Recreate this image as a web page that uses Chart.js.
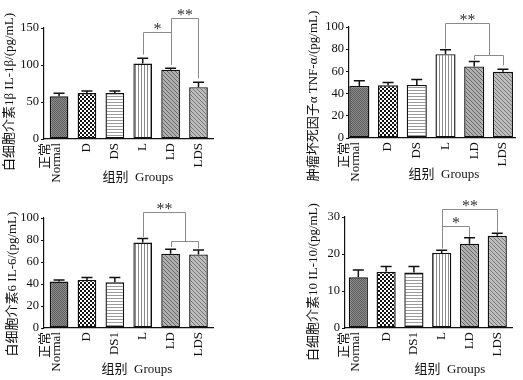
<!DOCTYPE html>
<html>
<head>
<meta charset="utf-8">
<script src="https://cdn.jsdelivr.net/npm/chart.js@4.4.1/dist/chart.umd.min.js"></script>
<style>
  html, body { margin: 0; padding: 0; background: #fff; }
  #page { position: relative; width: 523px; height: 380px; overflow: hidden; }
  .cell { position: absolute; width: 261px; height: 190px; }
</style>
</head>
<body>
<div id="page">
  <div class="cell" style="left:0;top:0"><canvas id="c1" width="261" height="190"></canvas></div>
  <div class="cell" style="left:262px;top:0"><canvas id="c2" width="261" height="190"></canvas></div>
  <div class="cell" style="left:0;top:190px"><canvas id="c3" width="261" height="190"></canvas></div>
  <div class="cell" style="left:262px;top:190px"><canvas id="c4" width="261" height="190"></canvas></div>
</div>
<script>
// groups (x categories)
const groupsA = [['正常', 'Normal'], 'D', 'DS', 'L', 'LD', 'LDS'];
const groupsB = [['正常', 'Normal'], 'D', 'DS1', 'L', 'LD', 'LDS'];

// IL-1β, pg/mL
const il1bMean = [57.7, 62, 62, 102, 93.7, 70];
const il1bErr = [4, 3, 3, 7, 1.8, 6.6];
// TNF-α, pg/mL
const tnfMean = [46.9, 47.5, 47.8, 75.5, 64.5, 59.7];
const tnfErr = [4.7, 2.4, 5, 3.9, 4.5, 2.3];
// IL-6, pg/mL
const il6Mean = [42.2, 43.7, 41.6, 77.7, 67.5, 66.9];
const il6Err = [1.5, 2.3, 4.2, 3.6, 4.2, 3.9];
// IL-10, pg/mL
const il10Mean = [13.7, 15.2, 15.0, 20.3, 22.8, 24.9];
const il10Err = [2.0, 1.4, 1.6, 0.7, 1.6, 0.7];

// y axis ticks
const il1bTicks = [0, 50, 100, 150];
const tnfTicks = [0, 20, 40, 60, 80, 100];
const il6Ticks = [0, 20, 40, 60, 80, 100];
const il10Ticks = [0, 10, 20, 30];

// significance brackets: a/b = group index, y = bar level, aEnd/bEnd = where the legs stop
const il1bSig = [
  { a: 3, b: 4, y: 144.6, aEnd: 114, bEnd: 100, text: '*' },
  { a: 4, b: 5, y: 163.5, aEnd: 100, bEnd: 82, text: '**' }
];
const tnfSig = [
  { a: 3, b: 4.5, y: 103.9, aEnd: 80.6, bEnd: 74.6, text: '**' },
  { a: 4, b: 5, y: 74.6, aEnd: 70.1, bEnd: 65.4, text: '' }
];
const il6Sig = [
  { a: 3, b: 4.5, y: 105.4, aEnd: 82.8, bEnd: 78.9, text: '**' },
  { a: 4, b: 5, y: 78.9, aEnd: 73.8, bEnd: 72.3, text: '' }
];
const il10Sig = [
  { a: 3, b: 5, y: 32.05, aEnd: 21.5, bEnd: 26.0, text: '**' },
  { a: 3, b: 4, y: 27.6, aEnd: 27.6, bEnd: 24.6, text: '*' }
];

const SERIF = "'Liberation Serif', 'Noto Sans CJK SC', serif";
const INK = '#111';
// two-line names sit left of their bar, so their tick is nudged (in group units)
const PAIR_SHIFT = 0.5;

// bar fills: one texture per group
function tile(size, draw) {
  const c = document.createElement('canvas');
  c.width = size; c.height = size;
  const g = c.getContext('2d');
  draw(g, size);
  return c.getContext('2d').createPattern(c, 'repeat');
}
const fills = [
  tile(2, (g) => { g.fillStyle = '#8c8c8c'; g.fillRect(0, 0, 2, 2); g.fillStyle = '#5e5e5e'; g.fillRect(0, 0, 1, 1); g.fillRect(1, 1, 1, 1); }),
  tile(4, (g) => { g.fillStyle = '#fff'; g.fillRect(0, 0, 4, 4); g.fillStyle = '#111'; g.fillRect(0, 0, 2, 2); g.fillRect(2, 2, 2, 2); }),
  tile(3, (g) => { g.fillStyle = '#fff'; g.fillRect(0, 0, 3, 3); g.fillStyle = '#9a9a9a'; g.fillRect(0, 0, 3, 1); }),
  tile(3, (g) => { g.fillStyle = '#fff'; g.fillRect(0, 0, 3, 3); g.fillStyle = '#8a8a8a'; g.fillRect(0, 0, 1, 3); }),
  tile(4, (g) => { g.fillStyle = '#b0b0b0'; g.fillRect(0, 0, 4, 4); g.fillStyle = '#666'; for (let i = 0; i < 4; i++) g.fillRect(i, i, 1, 1); }),
  tile(4, (g) => { g.fillStyle = '#bebebe'; g.fillRect(0, 0, 4, 4); g.fillStyle = '#747474'; for (let i = 0; i < 4; i++) g.fillRect(i, i, 1, 1); })
];

const errBars = {
  id: 'errBars',
  afterDatasetsDraw(chart, args, opts) {
    const { ctx } = chart;
    const y = chart.scales.y;
    const bars = chart.getDatasetMeta(0).data;
    ctx.save();
    ctx.strokeStyle = INK;
    ctx.lineWidth = 1.5;
    bars.forEach((bar, i) => {
      const top = y.getPixelForValue(opts.mean[i] + opts.err[i]);
      const base = y.getPixelForValue(opts.mean[i]);
      ctx.beginPath();
      ctx.moveTo(bar.x, base);
      ctx.lineTo(bar.x, top);
      ctx.moveTo(bar.x - 5.5, top);
      ctx.lineTo(bar.x + 5.5, top);
      ctx.stroke();
    });
    ctx.restore();
  }
};

const sig = {
  id: 'sig',
  afterDraw(chart, args, opts) {
    const { ctx } = chart;
    const { x, y } = chart.scales;
    ctx.save();
    ctx.strokeStyle = '#8a8a8a';
    ctx.lineWidth = 1;
    ctx.fillStyle = '#333';
    ctx.font = '16px ' + SERIF;
    ctx.textAlign = 'center';
    ctx.textBaseline = 'middle';
    opts.brackets.forEach((b) => {
      const xa = Math.round(x.getPixelForValue(b.a)) + 0.5;
      const xb = Math.round(x.getPixelForValue(b.b)) + 0.5;
      const yl = Math.round(y.getPixelForValue(b.y)) + 0.5;
      ctx.beginPath();
      ctx.moveTo(xa, y.getPixelForValue(b.aEnd));
      ctx.lineTo(xa, yl);
      ctx.lineTo(xb, yl);
      ctx.lineTo(xb, y.getPixelForValue(b.bEnd));
      ctx.stroke();
      if (b.text) ctx.fillText(b.text, (xa + xb) / 2, yl - 3);
    });
    ctx.restore();
  }
};

const titles = {
  id: 'titles',
  afterDraw(chart, args, opts) {
    const { ctx } = chart;
    ctx.save();
    ctx.fillStyle = INK;
    ctx.font = '13px ' + SERIF;
    ctx.textAlign = 'center';
    ctx.textBaseline = 'middle';
    ctx.fillText(opts.xText, opts.xPos[0], opts.xPos[1]);
    ctx.translate(opts.yPos[0], opts.yPos[1]);
    ctx.rotate(-Math.PI / 2);
    ctx.fillText(opts.yText, 0, 0);
    ctx.restore();
  }
};

function panel(id, o) {
  new Chart(document.getElementById(id), {
    type: 'bar',
    data: {
      datasets: [{
        data: o.mean.map((v, i) => ({ x: i, y: v })),
        backgroundColor: fills,
        borderColor: INK,
        borderWidth: 1.4,
        borderSkipped: false,
        barPercentage: o.barPct,
        categoryPercentage: 1
      }]
    },
    options: {
      responsive: false,
      animation: false,
      layout: { padding: { left: 0, top: o.top, right: 261 - o.right, bottom: 0 } },
      plugins: {
        legend: { display: false },
        tooltip: { enabled: false },
        errBars: { mean: o.mean, err: o.err },
        sig: { brackets: o.sig },
        titles: { xText: '组别  Groups', xPos: o.xTitle, yText: o.yText, yPos: o.yTitle }
      },
      scales: {
        x: {
          type: 'linear',
          offset: false,
          min: o.xMin,
          max: o.xMax,
          afterBuildTicks: (s) => {
            s.ticks = o.labels.map((l, i) => ({ value: Array.isArray(l) ? i - PAIR_SHIFT : i }));
          },
          afterFit: (s) => { s.height = 190 - o.bottom; },
          ticks: {
            autoSkip: false, minRotation: 90, maxRotation: 90, padding: 4,
            callback: (v, i) => o.labels[i],
            color: INK, font: { family: SERIF, size: 13, lineHeight: 0.85 }
          },
          grid: { drawOnChartArea: false, drawTicks: false, offset: false },
          border: { color: INK, width: 1.2 }
        },
        y: {
          min: 0,
          max: o.ticks[o.ticks.length - 1],
          afterBuildTicks: (s) => { s.ticks = o.ticks.map((v) => ({ value: v })); },
          afterFit: (s) => { s.width = o.left; },
          ticks: { padding: 2, color: INK, font: { family: SERIF, size: 12.5 } },
          grid: { drawOnChartArea: false, tickLength: 3, color: INK },
          border: { color: INK, width: 1.2 }
        }
      }
    },
    plugins: [errBars, sig, titles]
  });
}

panel('c1', {
  labels: groupsA, mean: il1bMean, err: il1bErr, ticks: il1bTicks, sig: il1bSig,
  yText: '白细胞介素1β IL-1β/(pg/mL)',
  left: 44, right: 213, top: 28, bottom: 139, xMin: -0.54, xMax: 5.52, barPct: 0.67,
  xTitle: [138, 178], yTitle: [10, 92]
});
panel('c2', {
  labels: groupsA, mean: tnfMean, err: tnfErr, ticks: tnfTicks, sig: tnfSig,
  yText: '肿瘤坏死因子α TNF-α/(pg/mL)',
  left: 87, right: 253, top: 27, bottom: 138, xMin: -0.36, xMax: 5.42, barPct: 0.7,
  xTitle: [182, 175], yTitle: [52, 96]
});
panel('c3', {
  labels: groupsB, mean: il6Mean, err: il6Err, ticks: il6Ticks, sig: il6Sig,
  yText: '白细胞介素6 IL-6/(pg/mL)',
  left: 44, right: 213, top: 28, bottom: 138, xMin: -0.54, xMax: 5.52, barPct: 0.67,
  xTitle: [137, 180], yTitle: [13, 94]
});
panel('c4', {
  labels: groupsB, mean: il10Mean, err: il10Err, ticks: il10Ticks, sig: il10Sig,
  yText: '白细胞介素10 IL-10/(pg/mL)',
  left: 83, right: 250, top: 27, bottom: 138, xMin: -0.48, xMax: 5.53, barPct: 0.69,
  xTitle: [188, 180], yTitle: [52, 92]
});
</script>
</body>
</html>
